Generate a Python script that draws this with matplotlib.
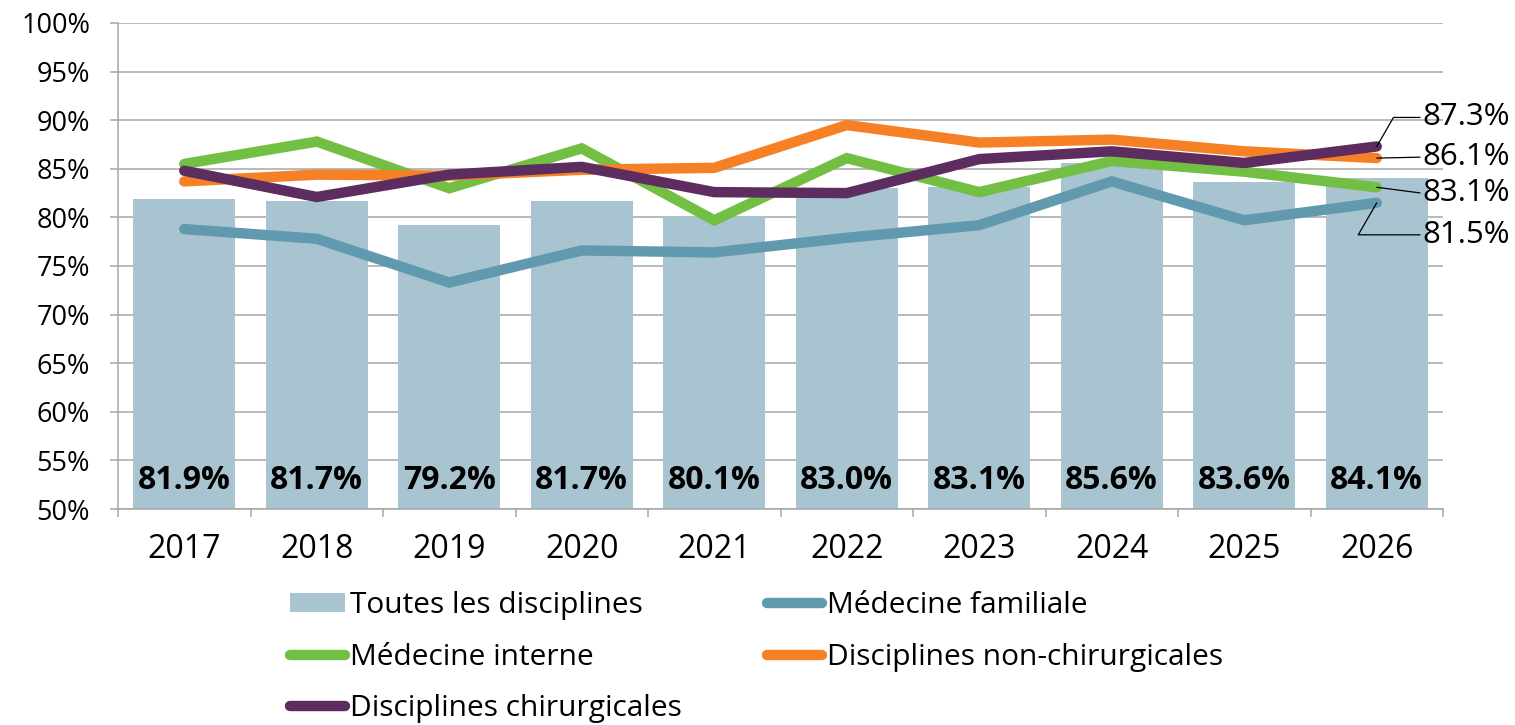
import matplotlib
matplotlib.use("Agg")
import matplotlib.pyplot as plt
from matplotlib.patches import Patch
from matplotlib.lines import Line2D
import numpy as np

plt.rcParams['font.family'] = ['Open Sans', 'DejaVu Sans']

years = ["2017", "2018", "2019", "2020", "2021", "2022", "2023", "2024", "2025", "2026"]
toutes = [81.9, 81.7, 79.2, 81.7, 80.1, 83.0, 83.1, 85.6, 83.6, 84.1]
med_familiale = [78.8, 77.8, 73.3, 76.6, 76.4, 77.9, 79.2, 83.7, 79.7, 81.5]
med_interne = [85.5, 87.8, 83.0, 87.1, 79.7, 86.1, 82.6, 85.8, 84.7, 83.1]
non_chir = [83.7, 84.4, 84.3, 84.9, 85.1, 89.5, 87.7, 88.0, 86.8, 86.1]
chir = [84.8, 82.1, 84.4, 85.2, 82.6, 82.5, 86.0, 86.8, 85.6, 87.3]
yticks = [50, 55, 60, 65, 70, 75, 80, 85, 90, 95, 100]

c_bar = "#a7c4d0"
c_mf = "#6199ae"
c_mi = "#72bf44"
c_nc = "#f58025"
c_ch = "#5c2d5e"
grid_c = "#a6a6a6"

fig = plt.figure(figsize=(15.15, 7.25), dpi=100)
ax = fig.add_axes([118/1515, 1-509/725, (1443-118)/1515, (509-23)/725])

x = np.arange(len(years))
ax.bar(x, np.array(toutes) - 50, bottom=50, width=0.77, color=c_bar, zorder=2)
for xi, v in zip(x, toutes):
    ax.text(xi, 52.9, f"{v:.1f}%", ha='center', va='center', fontsize=23,
            fontweight='bold', color='black', zorder=5)

lw = 7.5
series = [(med_familiale, c_mf), (med_interne, c_mi), (non_chir, c_nc), (chir, c_ch)]
for vals, col in series:
    ax.plot(x, vals, color=col, lw=lw, solid_capstyle='round',
            solid_joinstyle='miter', zorder=3)

ax.set_xlim(-0.5, 9.5)
ax.set_ylim(50, 100)
ax.set_yticks(yticks)
ax.set_yticklabels([f"{t}%" for t in yticks])
ax.set_xticks(x)
ax.set_xticklabels(years)
ax.set_xticks(np.arange(-0.5, 10, 1), minor=True)
ax.tick_params(axis='x', which='major', length=0, pad=17, labelsize=23)
ax.tick_params(axis='x', which='minor', length=6, width=1.1, color=grid_c)
ax.tick_params(axis='y', length=6, width=1.1, color=grid_c, pad=14, labelsize=19.5)
ax.yaxis.grid(True, color=grid_c, lw=1.1, zorder=0)
ax.set_axisbelow(True)
for s in ['top', 'right']:
    ax.spines[s].set_visible(False)
for s in ['left', 'bottom']:
    ax.spines[s].set_color(grid_c)
    ax.spines[s].set_linewidth(1.1)

# end labels with leader lines
end_vals = [(chir[-1], 29), (non_chir[-1], 1), (med_interne[-1], -6), (med_familiale[-1], -32)]
for v, dy in end_vals:
    ax.annotate(f"{v:.1f}%", xy=(9, v), xytext=(46, dy), textcoords='offset pixels',
                ha='left', va='center', fontsize=22.5, zorder=6, annotation_clip=False,
                arrowprops=dict(arrowstyle='-', color='black', lw=0.9,
                                shrinkA=0, shrinkB=0, relpos=(0, 0.5),
                                connectionstyle="angle,angleA=0,angleB=60,rad=0"
                                if abs(dy) > 10 else "arc3,rad=0"))

handles = [
    Patch(facecolor=c_bar, edgecolor='none'),
    Line2D([0], [0], color=c_mi, lw=lw, solid_capstyle='round'),
    Line2D([0], [0], color=c_ch, lw=lw, solid_capstyle='round'),
    Line2D([0], [0], color=c_mf, lw=lw, solid_capstyle='round'),
    Line2D([0], [0], color=c_nc, lw=lw, solid_capstyle='round'),
]
labels = ["Toutes les disciplines", "Médecine interne", "Disciplines chirurgicales",
          "Médecine familiale", "Disciplines non-chirurgicales"]
fig.legend(handles, labels, ncol=2, loc='upper left', bbox_to_anchor=(290/1515, 1-591/725),
           frameon=False, fontsize=21.5, handlelength=1.85, handletextpad=0.16,
           columnspacing=2.85, labelspacing=0.76, borderpad=0, borderaxespad=0,
           handleheight=0.6)

fig.savefig("out.png", dpi=100)
